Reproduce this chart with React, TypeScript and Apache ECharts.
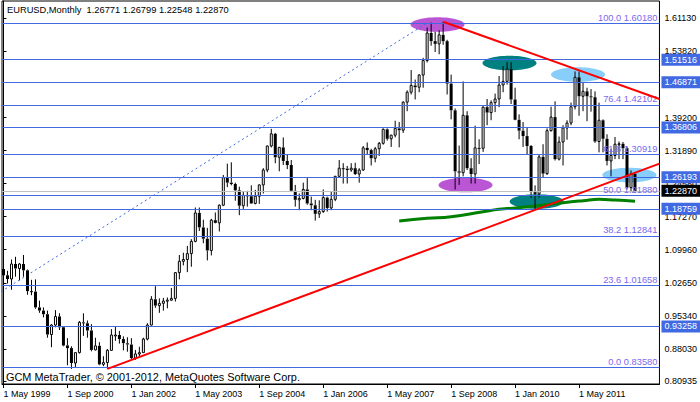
import React, { useEffect, useRef } from "react";
import * as echarts from "echarts";

// Monthly EURUSD bars, index 0 = May 1999 ... index 158 = Jul 2012
const opens = [
  1.0570, 1.0430, 1.0350, 1.0680, 1.0580, 1.0680, 1.0540, 1.0080,
  1.0070, 0.9720, 0.9650, 0.9570, 0.9120, 0.9330, 0.9520, 0.9280, 0.8880, 0.8820, 0.8490, 0.8720,
  0.9390, 0.9370, 0.9210, 0.8780, 0.8870, 0.8460, 0.8500, 0.8770, 0.9110, 0.9110, 0.9020, 0.8930,
  0.8900, 0.8600, 0.8690, 0.8720, 0.9020, 0.9330, 0.9900, 0.9760, 0.9810, 0.9860, 0.9880, 0.9920,
  1.0490, 1.0740, 1.0780, 1.0910, 1.1180, 1.1810, 1.1490, 1.1240, 1.0980, 1.1650, 1.1590, 1.1980,
  1.2590, 1.2480, 1.2450, 1.2310, 1.1970, 1.2200, 1.2180, 1.2020, 1.2180, 1.2430, 1.2760, 1.3290,
  1.3560, 1.3040, 1.3260, 1.2960, 1.2870, 1.2300, 1.2100, 1.2130, 1.2330, 1.2020, 1.1980, 1.1790,
  1.1840, 1.2150, 1.1920, 1.2110, 1.2620, 1.2800, 1.2790, 1.2760, 1.2800, 1.2670, 1.2760, 1.3250,
  1.3200, 1.3020, 1.3230, 1.3350, 1.3660, 1.3450, 1.3530, 1.3680, 1.3640, 1.4260, 1.4480, 1.4630,
  1.4590, 1.4860, 1.5180, 1.5790, 1.5610, 1.5550, 1.5750, 1.5610, 1.4670, 1.4080, 1.2730, 1.2700,
  1.3970, 1.2800, 1.2670, 1.3250, 1.3240, 1.4150, 1.4030, 1.4250, 1.4330, 1.4640, 1.4720, 1.4990,
  1.4320, 1.3870, 1.3630, 1.3510, 1.3290, 1.2270, 1.2230, 1.3050, 1.2680, 1.3630, 1.3930, 1.3000,
  1.3380, 1.3690, 1.3800, 1.4160, 1.4810, 1.4390, 1.4500, 1.4390, 1.4370, 1.3390, 1.3860, 1.3450,
  1.2960, 1.3080, 1.3330, 1.3340, 1.3240, 1.2370, 1.26771,
];
const highs = [
  1.0760, 1.0530, 1.0780, 1.0840, 1.0700, 1.0880, 1.0560, 1.0330,
  1.0340, 0.9870, 0.9720, 0.9650, 0.9350, 0.9660, 0.9590, 0.9300, 0.9040, 0.8860, 0.8730, 0.9420,
  0.9590, 0.9430, 0.9350, 0.9050, 0.8950, 0.8640, 0.8800, 0.9240, 0.9300, 0.9200, 0.9080, 0.9060,
  0.9040, 0.8780, 0.8850, 0.9050, 0.9370, 0.9970, 1.0190, 0.9920, 0.9930, 0.9940, 1.0150, 1.0500,
  1.0880, 1.0930, 1.1080, 1.1230, 1.1930, 1.1930, 1.1660, 1.1480, 1.1680, 1.1820, 1.2000, 1.2650,
  1.2900, 1.2930, 1.2480, 1.2390, 1.2280, 1.2300, 1.2420, 1.2320, 1.2440, 1.2800, 1.3300, 1.3670,
  1.3580, 1.3270, 1.3480, 1.3110, 1.2980, 1.2430, 1.2240, 1.2480, 1.2580, 1.2170, 1.2100, 1.2090,
  1.2330, 1.2170, 1.2290, 1.2630, 1.2980, 1.2910, 1.2850, 1.2910, 1.2920, 1.2800, 1.3290, 1.3370,
  1.3230, 1.3270, 1.3380, 1.3680, 1.3680, 1.3540, 1.3850, 1.3820, 1.4280, 1.4520, 1.4970, 1.4760,
  1.4880, 1.5240, 1.5910, 1.6020, 1.5820, 1.5850, 1.6038, 1.5640, 1.4870, 1.4120, 1.3300, 1.4720,
  1.4060, 1.3020, 1.3740, 1.3440, 1.4170, 1.4330, 1.4300, 1.4450, 1.4840, 1.5060, 1.5152, 1.5145,
  1.4580, 1.3990, 1.3820, 1.3690, 1.3310, 1.2420, 1.3110, 1.3330, 1.3680, 1.4160, 1.4280, 1.3500,
  1.3750, 1.3860, 1.4250, 1.4940, 1.4940, 1.4700, 1.4580, 1.4550, 1.4500, 1.4250, 1.3880, 1.3550,
  1.3230, 1.3490, 1.3390, 1.3380, 1.3280, 1.2750, 1.26799,
];
const lows = [
  1.0360, 1.0250, 1.0110, 1.0400, 1.0320, 1.0400, 1.0000, 0.9990,
  0.9690, 0.9600, 0.9500, 0.9050, 0.8840, 0.9280, 0.9220, 0.8860, 0.8440, 0.8360, 0.8380, 0.8700,
  0.9090, 0.9050, 0.8750, 0.8770, 0.8440, 0.8420, 0.8360, 0.8770, 0.8980, 0.8920, 0.8770, 0.8740,
  0.8570, 0.8560, 0.8640, 0.8720, 0.8990, 0.9320, 0.9710, 0.9600, 0.9650, 0.9700, 0.9860, 0.9850,
  1.0340, 1.0650, 1.0500, 1.0620, 1.1160, 1.1410, 1.1140, 1.0760, 1.0870, 1.1580, 1.1400, 1.1960,
  1.2380, 1.2420, 1.2080, 1.1760, 1.1900, 1.1950, 1.2010, 1.2000, 1.2010, 1.2240, 1.2710, 1.3260,
  1.2910, 1.2730, 1.2870, 1.2780, 1.2300, 1.1950, 1.1870, 1.2110, 1.1990, 1.1870, 1.1640, 1.1700,
  1.1810, 1.1840, 1.1870, 1.2070, 1.2610, 1.2460, 1.2460, 1.2720, 1.2650, 1.2480, 1.2740, 1.3100,
  1.2860, 1.2930, 1.3070, 1.3320, 1.3410, 1.3270, 1.3480, 1.3260, 1.3580, 1.4060, 1.4430, 1.4320,
  1.4480, 1.4580, 1.5140, 1.5510, 1.5370, 1.5320, 1.5530, 1.4430, 1.3880, 1.2330, 1.2430, 1.2620,
  1.2760, 1.2460, 1.2460, 1.2890, 1.3160, 1.3750, 1.3860, 1.4040, 1.4150, 1.4480, 1.4650, 1.4220,
  1.3860, 1.3440, 1.3270, 1.3110, 1.2140, 1.1876, 1.2150, 1.2590, 1.2650, 1.3610, 1.2970, 1.2970,
  1.2860, 1.3430, 1.3750, 1.4100, 1.3960, 1.4060, 1.3840, 1.4050, 1.3360, 1.3150, 1.3150, 1.2860,
  1.2620, 1.3000, 1.3000, 1.3000, 1.2330, 1.2290, 1.22548,
];
const closes = [
  1.0430, 1.0350, 1.0680, 1.0580, 1.0680, 1.0540, 1.0080, 1.0070,
  0.9720, 0.9650, 0.9570, 0.9120, 0.9330, 0.9520, 0.9280, 0.8880, 0.8820, 0.8490, 0.8720, 0.9390,
  0.9370, 0.9210, 0.8780, 0.8870, 0.8460, 0.8500, 0.8770, 0.9110, 0.9110, 0.9020, 0.8930, 0.8900,
  0.8600, 0.8690, 0.8720, 0.9020, 0.9330, 0.9900, 0.9760, 0.9810, 0.9860, 0.9880, 0.9920, 1.0490,
  1.0740, 1.0780, 1.0910, 1.1180, 1.1810, 1.1490, 1.1240, 1.0980, 1.1650, 1.1590, 1.1980, 1.2590,
  1.2480, 1.2450, 1.2310, 1.1970, 1.2200, 1.2180, 1.2020, 1.2180, 1.2430, 1.2760, 1.3290, 1.3560,
  1.3040, 1.3260, 1.2960, 1.2870, 1.2300, 1.2100, 1.2130, 1.2330, 1.2020, 1.1980, 1.1790, 1.1840,
  1.2150, 1.1920, 1.2110, 1.2620, 1.2800, 1.2790, 1.2760, 1.2800, 1.2670, 1.2760, 1.3250, 1.3200,
  1.3020, 1.3230, 1.3350, 1.3660, 1.3450, 1.3530, 1.3680, 1.3640, 1.4260, 1.4480, 1.4630, 1.4590,
  1.4860, 1.5180, 1.5790, 1.5610, 1.5550, 1.5750, 1.5610, 1.4670, 1.4080, 1.2730, 1.2700, 1.3970,
  1.2800, 1.2670, 1.3250, 1.3240, 1.4150, 1.4030, 1.4250, 1.4330, 1.4640, 1.4720, 1.4990, 1.4320,
  1.3870, 1.3630, 1.3510, 1.3290, 1.2270, 1.2230, 1.3050, 1.2680, 1.3630, 1.3930, 1.3000, 1.3380,
  1.3690, 1.3800, 1.4160, 1.4810, 1.4390, 1.4500, 1.4390, 1.4370, 1.3390, 1.3860, 1.3450, 1.2960,
  1.3080, 1.3330, 1.3340, 1.3240, 1.2370, 1.2677, 1.22870,
];

const monthNames = ["Jan", "Feb", "Mar", "Apr", "May", "Jun", "Jul", "Aug", "Sep", "Oct", "Nov", "Dec"];
const xLabelIndices = [0, 16, 32, 48, 64, 80, 96, 112, 128, 144];
const yTickValues = [1.2458, 1.6113, 1.5382, 1.392, 1.3189, 1.1727, 1.0996, 1.0265, 0.9534, 0.8803, 0.80935];

const fibPercents = ["100.0", "76.4", "61.8", "50.0", "38.2", "23.6", "0.0"];
const fibLevels = [1.6018, 1.42102, 1.30919, 1.2188, 1.12841, 1.01658, 0.8358];
const userLevels = [1.51516, 1.46871, 1.36806, 1.26193, 1.18759, 0.93258];
const lastPrice = 1.2287;

const fibDiagonal = [[-31.3, 0.8358], [106.1, 1.6018]];
const supportLine = [[26, 0.836], [164.125, 1.29]];
const resistanceLine = [[110, 1.6038], [164.125, 1.433]];
const maIdx = [99, 106, 112, 120, 124, 130, 133, 140, 145, 149, 153, 158];
const maVals = [1.1632, 1.1691, 1.1727, 1.1837, 1.189, 1.1935, 1.1963, 1.2036, 1.2081, 1.2112, 1.2096, 1.2067];

const ellipseIdx = [108.6, 115.6, 126.6, 133.4, 143.75, 156.6];
const ellipsePrice = [1.5978, 1.2428, 1.5127, 1.2063, 1.4872, 1.2649];
const ellipseColors = ["#BA55D3", "#BA55D3", "#008080", "#008080", "#87CEFA", "#87CEFA"];

const FONT = '"Liberation Sans", Arial, sans-serif';
const BLUE = "#4169E1";

export default function App() {
  const ref = useRef<HTMLDivElement>(null);
  useEffect(() => {
    document.body.style.margin = "0";
    if (!ref.current) return;
    const chart = echarts.init(ref.current, null, { renderer: "svg" });

    const candleData = opens.map((o, i) => [i, o, highs[i], lows[i], closes[i]]);
    const ellipseData = ellipseIdx.map((x, i) => [x, ellipsePrice[i]]);
    const maData = maIdx.map((x, i) => [x, maVals[i]]);

    const markData: any[] = [];
    fibLevels.forEach((v, i) => {
      markData.push({
        yAxis: v,
        lineStyle: { color: BLUE, width: 1, type: "solid" },
        label: {
          show: true,
          position: "insideEndTop",
          distance: [2, 1],
          formatter: `${fibPercents[i]} ${v.toFixed(5)}`,
          color: "#7b68ee",
          fontSize: 9.3,
          fontFamily: FONT,
        },
      });
    });
    userLevels.forEach((v) => {
      markData.push({
        yAxis: v,
        lineStyle: { color: BLUE, width: 1, type: "solid" },
        label: {
          show: true,
          position: "end",
          distance: 2,
          formatter: v.toFixed(5),
          color: "#fff",
          backgroundColor: BLUE,
          padding: [2, 4, 1, 3],
          fontSize: 9,
          fontFamily: FONT,
        },
      });
    });
    markData.push({
      yAxis: lastPrice,
      lineStyle: { color: "#c0c0c0", width: 1, type: "solid" },
      label: {
        show: true,
        position: "end",
        distance: 2,
        formatter: lastPrice.toFixed(5),
        color: "#fff",
        backgroundColor: "#000",
        padding: [2, 4, 1, 3],
        fontSize: 9,
        fontFamily: FONT,
      },
    });

    chart.setOption({
      animation: false,
      backgroundColor: "#fff",
      grid: { left: 2, right: 40, top: 1, bottom: 18, show: true, borderColor: "#000", borderWidth: 1, backgroundColor: "#fff" },
      xAxis: {
        type: "value",
        min: -0.375,
        max: 164.125,
        splitLine: { show: false },
        axisLine: { show: true, lineStyle: { color: "#000" } },
        axisTick: { show: true, length: 4, lineStyle: { color: "#000" }, customValues: xLabelIndices },
        axisLabel: {
          customValues: xLabelIndices,
          align: "left",
          margin: 5,
          color: "#000",
          fontSize: 9,
          fontFamily: FONT,
          formatter: (v: number) => {
            const m = 4 + Math.round(v);
            return `1 ${monthNames[m % 12]} ${1999 + Math.floor(m / 12)}`;
          },
        },
      },
      yAxis: {
        type: "value",
        position: "right",
        min: 0.8026,
        max: 1.6498,
        splitLine: { show: false },
        axisLine: { show: true, lineStyle: { color: "#000" } },
        axisTick: { show: true, length: 3, lineStyle: { color: "#000" }, customValues: yTickValues },
        axisLabel: {
          customValues: yTickValues,
          margin: 5,
          color: "#000",
          fontSize: 9,
          fontFamily: FONT,
          padding: [0, 0, 3, 0],
          formatter: (v: number) => v.toFixed(5),
        },
      },
      graphic: [
        {
          type: "text",
          left: 7,
          top: 5,
          z: 100,
          style: { text: "EURUSD,Monthly  1.26771 1.26799 1.22548 1.22870", fill: "#000", font: `9.3px ${FONT}` },
        },
        {
          type: "text",
          left: 6,
          top: 371,
          z: 100,
          style: { text: "GCM MetaTrader, © 2001-2012, MetaQuotes Software Corp.", fill: "#000", font: `10.9px ${FONT}` },
        },
      ],
      series: [
        {
          type: "custom",
          name: "ellipses",
          z: 1,
          data: ellipseData,
          encode: { x: 0, y: 1 },
          renderItem: (params: any, api: any) => {
            const p = api.coord([api.value(0), api.value(1)]);
            return {
              type: "ellipse",
              shape: { cx: p[0], cy: p[1], rx: 27, ry: 7.3 },
              style: { fill: ellipseColors[params.dataIndex] },
            };
          },
        },
        {
          type: "line",
          name: "fib",
          z: 2,
          data: fibDiagonal,
          symbol: "none",
          lineStyle: { color: BLUE, width: 1, type: [2, 3] },
          markLine: { symbol: ["none", "none"], silent: true, data: markData },
        },
        {
          type: "line",
          name: "ma",
          z: 3,
          data: maData,
          smooth: true,
          symbol: "none",
          lineStyle: { color: "#008000", width: 3 },
        },
        {
          type: "custom",
          name: "EURUSD",
          z: 4,
          data: candleData,
          encode: { x: 0, y: [1, 2, 3, 4] },
          renderItem: (params: any, api: any) => {
            const x = api.value(0);
            const o = api.value(1), h = api.value(2), l = api.value(3), c = api.value(4);
            const pH = api.coord([x, h]);
            const pL = api.coord([x, l]);
            const pO = api.coord([x, o]);
            const pC = api.coord([x, c]);
            const cx = pH[0];
            const top = Math.min(pO[1], pC[1]);
            const bot = Math.max(pO[1], pC[1]);
            const bull = c >= o;
            const body = bull
              ? { type: "rect", shape: { x: cx - 1, y: top, width: 2, height: Math.max(bot - top, 1) }, style: { fill: "#fff", stroke: "#000", lineWidth: 1 } }
              : { type: "rect", shape: { x: cx - 1.5, y: top, width: 3, height: Math.max(bot - top, 1) }, style: { fill: "#000" } };
            return {
              type: "group",
              children: [
                { type: "line", shape: { x1: cx, y1: pH[1], x2: cx, y2: top }, style: { stroke: "#000", lineWidth: 1 } },
                { type: "line", shape: { x1: cx, y1: bot, x2: cx, y2: pL[1] }, style: { stroke: "#000", lineWidth: 1 } },
                body,
              ],
            };
          },
        },
        {
          type: "line",
          name: "support",
          z: 5,
          data: supportLine,
          symbol: "none",
          lineStyle: { color: "#ff0000", width: 2 },
        },
        {
          type: "line",
          name: "resistance",
          z: 5,
          data: resistanceLine,
          symbol: "none",
          lineStyle: { color: "#ff0000", width: 2 },
        },
      ],
    });
    return () => chart.dispose();
  }, []);
  return <div ref={ref} style={{ width: 700, height: 402 }} />;
}
